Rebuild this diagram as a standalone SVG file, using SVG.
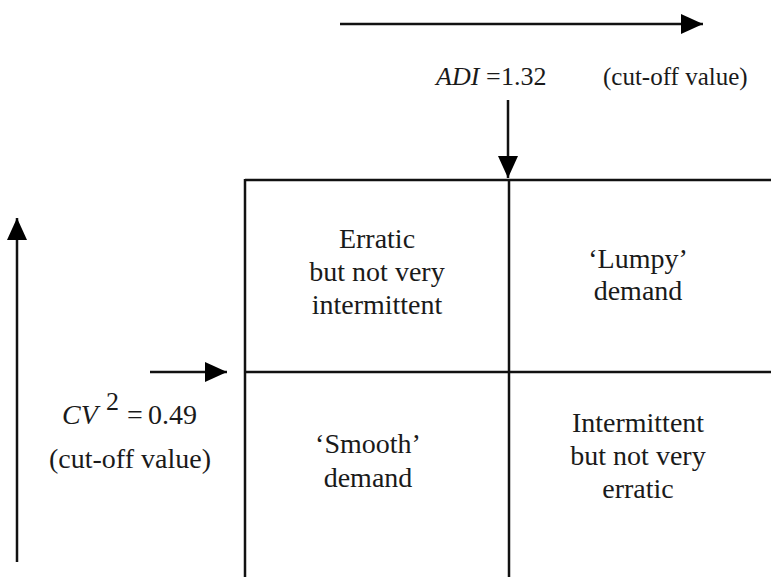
<svg xmlns="http://www.w3.org/2000/svg" width="771" height="577" viewBox="0 0 771 577">
<style>
.q{font-size:28px;text-anchor:middle;}
.ln{stroke:#111;stroke-width:2.5;fill:none;}
</style>
<defs>
<marker id="ah" markerWidth="22" markerHeight="20" refX="22" refY="10" orient="auto" markerUnits="userSpaceOnUse">
<path d="M0,0 L22,10 L0,20 Z" fill="#000"/>
</marker>
</defs>
<rect width="771" height="577" fill="#fff"/>
<g id="connectors">
<line class="ln" x1="340" y1="24" x2="703" y2="24" marker-end="url(#ah)"/>
<line class="ln" x1="508" y1="100" x2="508" y2="178" marker-end="url(#ah)"/>
<line class="ln" x1="17" y1="562" x2="17" y2="218" marker-end="url(#ah)"/>
<line class="ln" x1="150" y1="372" x2="227" y2="372" marker-end="url(#ah)"/>
</g>
<g id="grid">
<line class="ln" x1="245" y1="180" x2="771" y2="180"/>
<line class="ln" x1="245" y1="372" x2="771" y2="372"/>
<line class="ln" x1="245" y1="179" x2="245" y2="577"/>
<line class="ln" x1="509" y1="180" x2="509" y2="577"/>
</g>
<g font-family="Liberation Serif, Times New Roman, serif" fill="#1a1a1a">
<g id="adi-label">
<text y="85" font-size="26"><tspan x="436" font-style="italic">ADI</tspan><tspan x="486">=</tspan><tspan x="501">1.32</tspan><tspan x="603" font-size="25">(cut-off value)</tspan></text>
</g>
<g id="cv-label">
<text y="424" font-size="28"><tspan x="62" font-style="italic">CV</tspan><tspan x="106" y="410" font-size="26">2</tspan><tspan x="127" y="424">=</tspan><tspan x="148">0.49</tspan></text>
<text x="130" y="468" font-size="28" text-anchor="middle">(cut-off value)</text>
</g>
<g id="q-erratic">
<text class="q" x="377" y="248">Erratic</text>
<text class="q" x="377" y="281">but not very</text>
<text class="q" x="377" y="314">intermittent</text>
</g>
<g id="q-lumpy">
<text class="q" x="638" y="268">‘Lumpy’</text>
<text class="q" x="638" y="300">demand</text>
</g>
<g id="q-smooth">
<text class="q" x="368" y="453">‘Smooth’</text>
<text class="q" x="368" y="487">demand</text>
</g>
<g id="q-intermittent">
<text class="q" x="638" y="432">Intermittent</text>
<text class="q" x="638" y="465">but not very</text>
<text class="q" x="638" y="498">erratic</text>
</g>
</g>
</svg>
